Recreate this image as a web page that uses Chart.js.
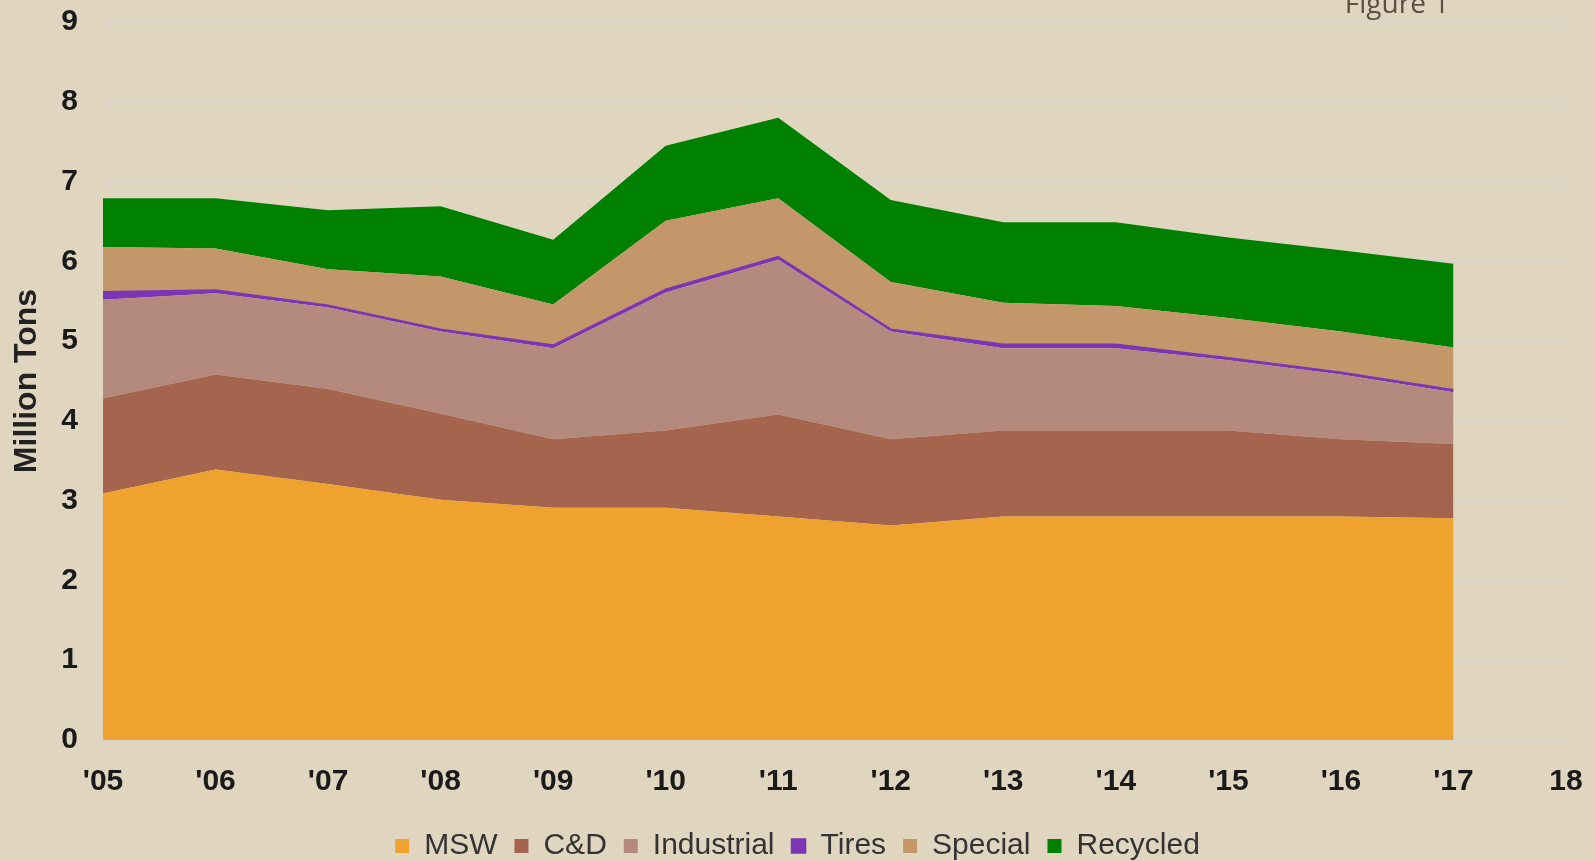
<!DOCTYPE html>
<html>
<head>
<meta charset="utf-8">
<script src="https://cdn.jsdelivr.net/npm/chart.js@4"></script>
<style>
  html, body { margin: 0; padding: 0; overflow: hidden; background: #e0d6c0; }
  #wrap { position: relative; width: 1595px; height: 871px; }
  #fig { position: absolute; left: 1330px; top: -12px; width: 134px; text-align: center;
         font: 28px/28px "Open Sans", sans-serif; color: #5b4f44; }
</style>
</head>
<body>
<div id="wrap">
  <canvas id="chart" width="1595" height="871"></canvas>
  <div id="fig">Figure 1</div>
</div>
<script>
// years on the x axis ('18 has no data)
const years = ["'05", "'06", "'07", "'08", "'09", "'10", "'11", "'12", "'13", "'14", "'15", "'16", "'17", "18"]

// million tons per stream, 2005-2017
const msw        = [3.09, 3.39, 3.21, 3.01, 2.91, 2.91, 2.80, 2.69, 2.80, 2.80, 2.80, 2.80, 2.78]
const cnd        = [1.19, 1.19, 1.19, 1.08, 0.86, 0.97, 1.28, 1.08, 1.08, 1.08, 1.08, 0.97, 0.93]
const industrial = [1.24, 1.02, 1.02, 1.03, 1.14, 1.73, 1.94, 1.35, 1.03, 1.03, 0.88, 0.81, 0.65]
const tires      = [0.10, 0.04, 0.03, 0.03, 0.04, 0.04, 0.04, 0.03, 0.05, 0.05, 0.03, 0.03, 0.03]
const special    = [0.56, 0.52, 0.45, 0.66, 0.51, 0.86, 0.73, 0.59, 0.52, 0.48, 0.50, 0.51, 0.53]
const recycled   = [0.61, 0.63, 0.74, 0.88, 0.81, 0.94, 1.01, 1.03, 1.01, 1.05, 1.01, 1.02, 1.05]

const yTicks = [0, 1, 2, 3, 4, 5, 6, 7, 8, 9]

const area = (label, data, color, fill, bw) => ({
  label,
  data,
  fill,
  backgroundColor: color,
  borderColor: color,
  borderWidth: bw || 0,
  pointRadius: 0,
  tension: 0
})

const ctx = document.getElementById('chart')
new Chart(ctx, {
  type: 'line',
  data: {
    labels: years,
    datasets: [
      area('MSW', msw, '#f0a22f', 'origin'),
      area('C&D', cnd, '#a5644d', '-1'),
      area('Industrial', industrial, '#b58a7e', '-1'),
      area('Tires', tires, '#7b35b5', '-1', 1.5),
      area('Special', special, '#c4976b', '-1'),
      area('Recycled', recycled, '#008000', '-1')
    ]
  },
  options: {
    responsive: false,
    animation: false,
    layout: { padding: { top: 22, right: 29, left: 29, bottom: 0 } },
    plugins: {
      tooltip: { enabled: false },
      legend: {
        position: 'bottom',
        labels: {
          boxWidth: 14,
          boxHeight: 14,
          padding: 17,
          color: '#333333',
          font: { family: 'Liberation Sans, Arial, sans-serif', size: 30 }
        }
      }
    },
    scales: {
      x: {
        offset: false,
        // tick marks are invisible, they only push the labels down
        grid: { display: true, drawOnChartArea: false, color: 'transparent', drawTicks: true, tickLength: 24 },
        border: { display: false },
        ticks: {
          padding: 0,
          maxRotation: 0,
          autoSkip: false,
          color: '#1a1a1a',
          font: { family: 'Liberation Sans, Arial, sans-serif', size: 30, weight: 'bold' }
        },
        afterFit: (scale) => { scale.height = 74 }
      },
      y: {
        stacked: true,
        min: yTicks[0],
        max: yTicks[yTicks.length - 1],
        afterBuildTicks: (scale) => { scale.ticks = yTicks.map(v => ({ value: v })) },
        grid: { color: '#d7d5cf', lineWidth: 2, drawTicks: true, tickLength: 25, tickColor: 'transparent' },
        border: { display: false },
        ticks: {
          padding: 0,
          color: '#1a1a1a',
          font: { family: 'Liberation Sans, Arial, sans-serif', size: 30, weight: 'bold' }
        },
        title: {
          display: true,
          text: 'Million Tons',
          color: '#222222',
          padding: { top: -21, bottom: 0 },
          font: { family: 'Liberation Sans, Arial, sans-serif', size: 32, weight: 'bold' }
        },
        afterFit: (scale) => { scale.width = 74 }
      }
    }
  }
})
</script>
</body>
</html>
